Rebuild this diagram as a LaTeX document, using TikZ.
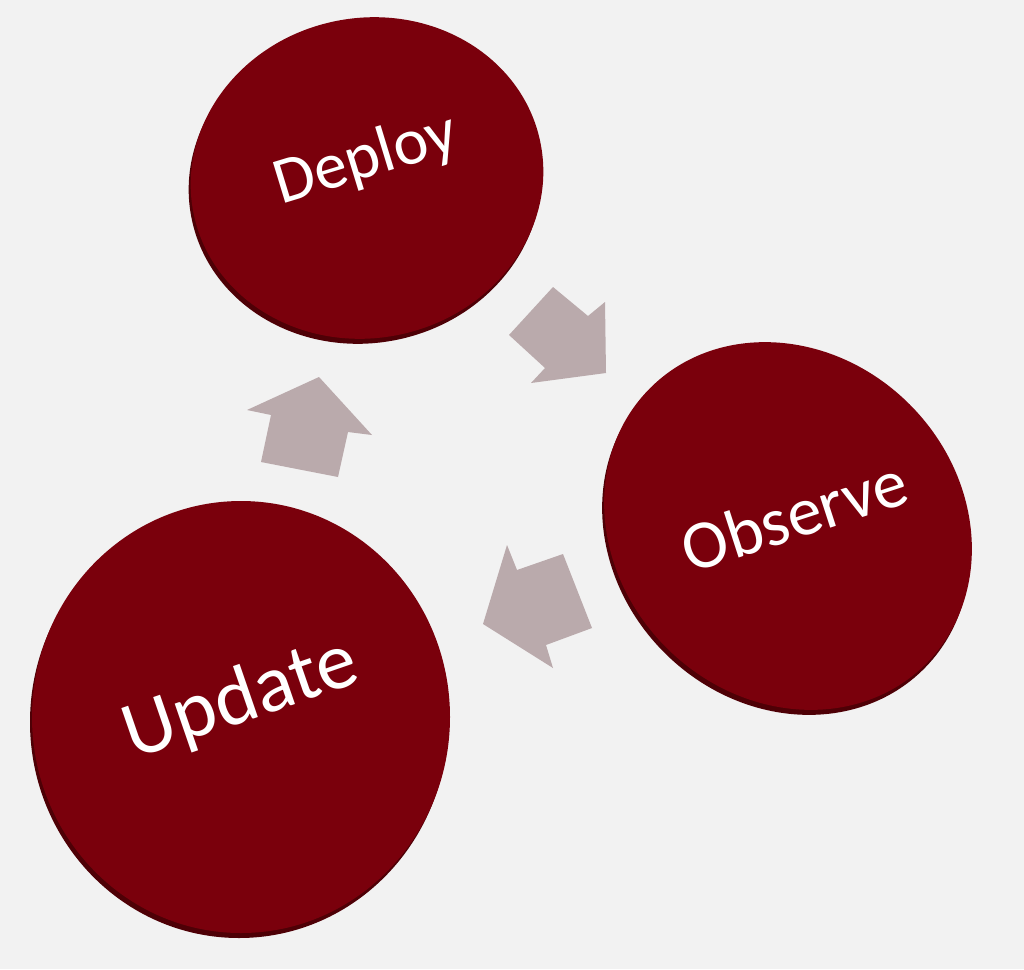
\documentclass[tikz,border=0pt]{standalone}
\usepackage{fontspec}
\setmainfont{Carlito}
\usetikzlibrary{shapes.geometric}
\definecolor{diskred}{RGB}{122,0,12}
\definecolor{rimred}{RGB}{78,0,6}
\definecolor{arrowgrey}{RGB}{186,170,172}
\definecolor{paper}{RGB}{242,242,242}

\begin{document}
\begin{tikzpicture}
[
x=1pt, y=1pt,
disk/.style={ellipse, fill=diskred, draw=none, inner sep=0pt},
rim/.style={ellipse, fill=rimred, draw=none, inner sep=0pt},
caption/.style={text=white, inner sep=0pt},
blockarrow/.style={fill=arrowgrey}
]

\fill[paper] (0,0) rectangle (1024,-969);

\node[rim, minimum width=354, minimum height=320, rotate=12] (deployrim) at (365,-183) {};
\node[disk, minimum width=354, minimum height=320, rotate=12] (deploy) at (367,-178) {};
\node[caption, rotate=17, font={\fontsize{66}{74}\selectfont}] (deploytext) at (366,-160) {Deploy};

\node[rim, minimum width=390, minimum height=344, rotate=-45] (observerim) at (786,-531) {};
\node[disk, minimum width=390, minimum height=344, rotate=-45] (observe) at (788,-526) {};
\node[caption, rotate=18, font={\fontsize{69}{77}\selectfont}] (observetext) at (794,-515) {Observe};

\node[rim, minimum width=418, minimum height=432] (updaterim) at (239,-722) {};
\node[disk, minimum width=418, minimum height=432] (update) at (241,-717) {};
\node[caption, rotate=19, font={\fontsize{81}{89}\selectfont}] (updatetext) at (241,-700) {Update};

\fill[blockarrow] (553,-287) -- (588,-316) -- (605,-302) -- (606,-373) -- (531,-383) -- (545,-368) -- (509,-335) -- cycle;
\fill[blockarrow] (507,-545) -- (517,-570) -- (563,-554) -- (592,-628) -- (546,-645) -- (553,-668) -- (483,-624) -- cycle;
\fill[blockarrow] (319,-377) -- (372,-435) -- (348,-432) -- (338,-477) -- (261,-462) -- (271,-415) -- (247,-410) -- cycle;
\end{tikzpicture}
\end{document}
